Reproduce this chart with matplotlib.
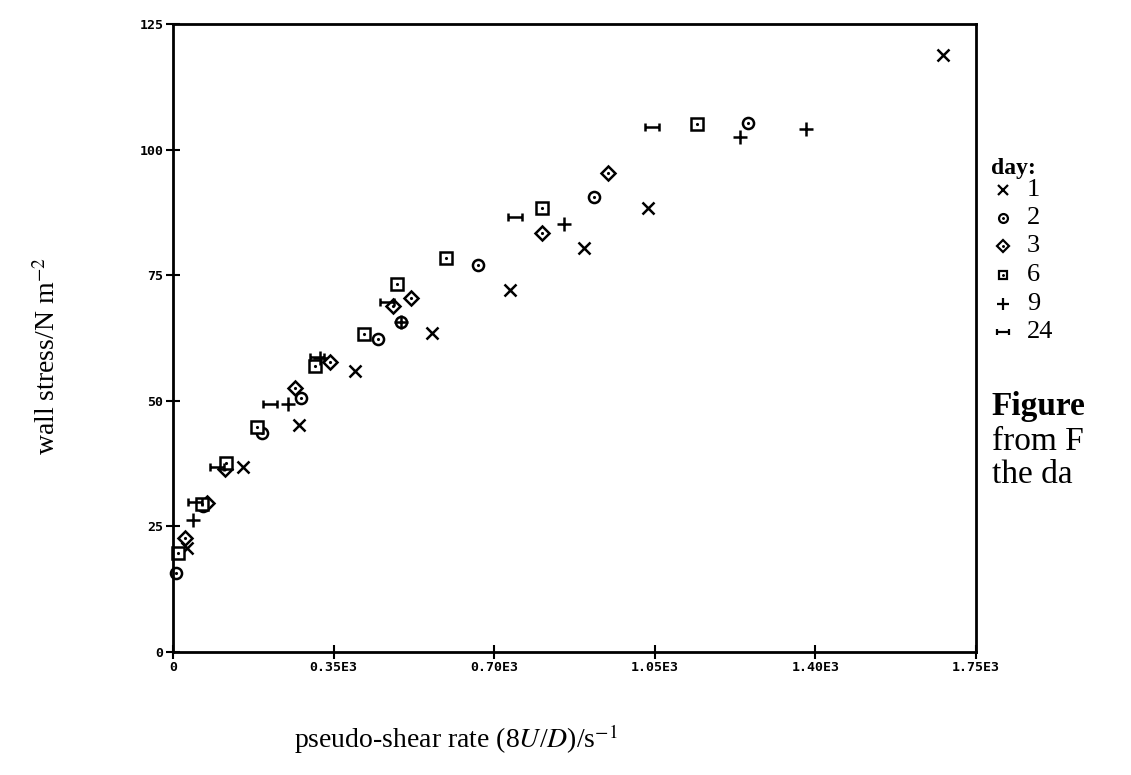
#!/usr/bin/env python3
"""wall stress against pseudo-shear rate for several days"""
import matplotlib
matplotlib.use("Agg")
import matplotlib.pyplot as plt
from matplotlib.path import Path

plt.rcParams['font.family'] = ['Liberation Serif', 'DejaVu Serif']
plt.rcParams['mathtext.fontset'] = 'stix'

# values
day1_x = [30, 153, 275, 397, 564, 734, 895, 1035, 1678]
day1_y = [20.7, 36.8, 45.2, 56.0, 63.5, 72.1, 80.4, 88.4, 118.8]
day2_x = [7, 65, 194, 279, 447, 497, 664, 917, 1253]
day2_y = [15.7, 29.1, 43.6, 50.6, 62.3, 65.7, 77.0, 90.6, 105.3]
day3_x = [26, 74, 113, 266, 342, 479, 518, 804, 948]
day3_y = [22.7, 29.7, 36.4, 52.5, 57.7, 68.9, 70.5, 83.4, 95.3]
day6_x = [11, 63, 115, 183, 309, 416, 488, 595, 804, 1142]
day6_y = [19.7, 29.5, 37.6, 44.8, 56.9, 63.3, 73.2, 78.4, 88.4, 105.1]
day9_x = [44, 250, 320, 497, 852, 1235, 1379]
day9_y = [26.3, 49.4, 58.5, 65.7, 85.2, 102.5, 104.1]
day24_x = [48, 96, 211, 314, 466, 745, 1044]
day24_y = [29.9, 36.8, 49.4, 58.7, 69.7, 86.6, 104.5]

day_labels = ["1", "2", "3", "6", "9", "24"]
x_ticks = [0, 350, 700, 1050, 1400, 1750]
x_tick_labels = ["0", "0.35E3", "0.70E3", "1.05E3", "1.40E3", "1.75E3"]
y_ticks = [0, 25, 50, 75, 100, 125]

# "H" turned on its side: |-|
hbar = Path([(-1, -0.6), (-1, 0.6), (1, -0.6), (1, 0.6), (-1, 0), (1, 0)],
            [Path.MOVETO, Path.LINETO, Path.MOVETO, Path.LINETO,
             Path.MOVETO, Path.LINETO])

fig = plt.figure(figsize=(11.31, 7.75), dpi=100)
ax = fig.add_axes([0.153, 0.159, 0.710, 0.810])

series = [
    (day1_x, day1_y, 'x', 9, False),
    (day2_x, day2_y, 'o', 8, True),
    (day3_x, day3_y, 'D', 7.5, True),
    (day6_x, day6_y, 's', 8, True),
    (day9_x, day9_y, '+', 10, False),
    (day24_x, day24_y, hbar, 10, False),
]
for xs, ys, mk, ms, dot in series:
    ax.plot(xs, ys, linestyle='none', marker=mk, markersize=ms,
            markerfacecolor='white', markeredgecolor='black',
            markeredgewidth=1.8, clip_on=False)
    if dot:
        ax.plot(xs, ys, linestyle='none', marker='.', markersize=2.5,
                color='black', clip_on=False)

ax.set_xlim(0, 1750)
ax.set_ylim(0, 125)
ax.set_xticks(x_ticks)
ax.set_xticklabels(x_tick_labels)
ax.set_yticks(y_ticks)
for s in ax.spines.values():
    s.set_linewidth(2)
ax.tick_params(direction='inout', length=10, width=1.5, pad=2)
for lab in ax.get_xticklabels() + ax.get_yticklabels():
    lab.set_family('DejaVu Sans Mono')
    lab.set_fontsize(9.5)
    lab.set_fontweight('bold')

fig.text(0.042, 0.540, "wall stress/N m$^{-2}$", rotation=90,
         ha='center', va='center', fontsize=20)
fig.text(0.403, 0.046, "pseudo-shear rate (8$U$/$D$)/s$^{-1}$",
         ha='center', va='center', fontsize=20)

# legend drawn by hand to the right of the axes
fig.text(0.876, 0.783, "day:", fontsize=17, fontweight='bold',
         va='center')
leg_y = [0.755, 0.719, 0.682, 0.645, 0.608, 0.571]
for (xs, ys, mk, ms, dot), lab, yy in zip(series, day_labels, leg_y):
    fig.lines.append(plt.Line2D([0.887], [yy], transform=fig.transFigure,
                                linestyle='none', marker=mk,
                                markersize=ms * 0.8,
                                markerfacecolor='white',
                                markeredgecolor='black',
                                markeredgewidth=1.6))
    if dot:
        fig.lines.append(plt.Line2D([0.887], [yy],
                                    transform=fig.transFigure,
                                    linestyle='none', marker='.',
                                    markersize=2.2, color='black'))
    fig.text(0.908, yy, lab, fontsize=19, va='center')

# caption runs off the right edge of the page, as in the scan
fig.text(0.877, 0.476, "Figure", fontsize=24, fontweight='bold',
         va='center')
fig.text(0.877, 0.430, "from F", fontsize=24, va='center')
fig.text(0.877, 0.387, "the da", fontsize=24, va='center')

fig.savefig("out.png", dpi=100)
